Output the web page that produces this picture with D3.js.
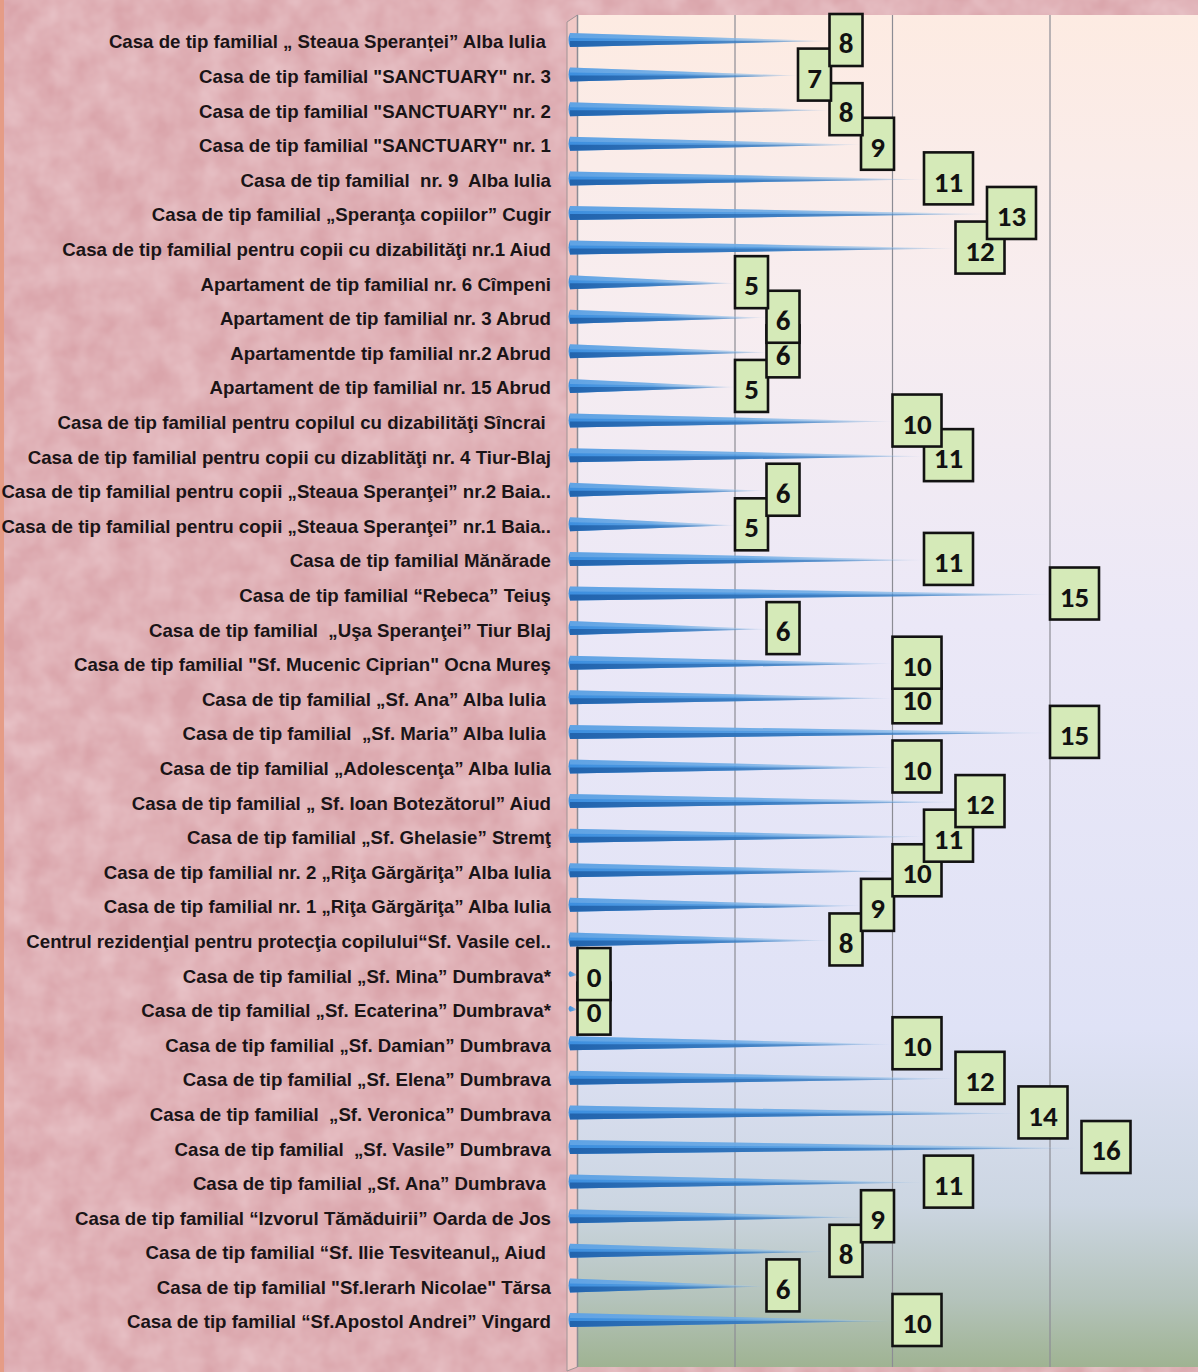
<!DOCTYPE html>
<html><head><meta charset="utf-8">
<script src="https://cdn.jsdelivr.net/npm/d3@7/dist/d3.min.js"></script>
<style>
html,body{margin:0;padding:0;background:#dba9ae;}
svg{display:block;}
.lbl{font-family:"Liberation Sans Narrow","Arial Narrow","Liberation Sans",sans-serif;font-weight:bold;font-size:18px;fill:#1a1416;white-space:pre;}
.val{font-family:Carlito,Lato,"Open Sans",sans-serif;font-weight:600;font-size:29px;fill:#111;}
</style></head>
<body>
<script>
const categories = [
 "Casa de tip familial „ Steaua Speranței” Alba Iulia ",
 "Casa de tip familial \"SANCTUARY\" nr. 3",
 "Casa de tip familial \"SANCTUARY\" nr. 2",
 "Casa de tip familial \"SANCTUARY\" nr. 1",
 "Casa de tip familial  nr. 9  Alba Iulia",
 "Casa de tip familial „Speranţa copiilor” Cugir",
 "Casa de tip familial pentru copii cu dizabilităţi nr.1 Aiud",
 "Apartament de tip familial nr. 6 Cîmpeni",
 "Apartament de tip familial nr. 3 Abrud",
 "Apartamentde tip familial nr.2 Abrud",
 "Apartament de tip familial nr. 15 Abrud",
 "Casa de tip familial pentru copilul cu dizabilităţi Sîncrai ",
 "Casa de tip familial pentru copii cu dizablităţi nr. 4 Tiur-Blaj",
 "Casa de tip familial pentru copii „Steaua Speranţei” nr.2 Baia..",
 "Casa de tip familial pentru copii „Steaua Speranţei” nr.1 Baia..",
 "Casa de tip familial Mănărade",
 "Casa de tip familial “Rebeca” Teiuş",
 "Casa de tip familial  „Uşa Speranţei” Tiur Blaj",
 "Casa de tip familial \"Sf. Mucenic Ciprian\" Ocna Mureş",
 "Casa de tip familial „Sf. Ana” Alba Iulia ",
 "Casa de tip familial  „Sf. Maria” Alba Iulia ",
 "Casa de tip familial „Adolescenţa” Alba Iulia",
 "Casa de tip familial „ Sf. Ioan Botezătorul” Aiud",
 "Casa de tip familial „Sf. Ghelasie” Stremţ",
 "Casa de tip familial nr. 2 „Riţa Gărgăriţa” Alba Iulia",
 "Casa de tip familial nr. 1 „Riţa Gărgăriţa” Alba Iulia",
 "Centrul rezidenţial pentru protecţia copilului“Sf. Vasile cel..",
 "Casa de tip familial „Sf. Mina” Dumbrava*",
 "Casa de tip familial „Sf. Ecaterina” Dumbrava*",
 "Casa de tip familial „Sf. Damian” Dumbrava",
 "Casa de tip familial „Sf. Elena” Dumbrava",
 "Casa de tip familial  „Sf. Veronica” Dumbrava",
 "Casa de tip familial  „Sf. Vasile” Dumbrava",
 "Casa de tip familial „Sf. Ana” Dumbrava ",
 "Casa de tip familial “Izvorul Tămăduirii” Oarda de Jos",
 "Casa de tip familial “Sf. Ilie Tesviteanul„ Aiud ",
 "Casa de tip familial \"Sf.Ierarh Nicolae\" Tărsa",
 "Casa de tip familial “Sf.Apostol Andrei” Vingard"
];
const values = [8,7,8,9,11,13,12,5,6,6,5,10,11,6,5,11,15,6,10,10,15,10,12,11,10,9,8,0,0,10,12,14,16,11,9,8,6,10];
const gridTicks = [5,10,15];

const W = 1198, H = 1372;
const plotTop = 15, plotBottom = 1367;
const svg = d3.select("body").append("svg").attr("width", W).attr("height", H);
const defs = svg.append("defs");

// textured pink background
const f = defs.append("filter").attr("id","tex").attr("x",0).attr("y",0).attr("width","100%").attr("height","100%");
f.append("feTurbulence").attr("type","fractalNoise").attr("baseFrequency","0.035").attr("numOctaves",3).attr("seed",4).attr("result","n");
f.append("feColorMatrix").attr("in","n").attr("type","matrix")
 .attr("values","0 0 0 0 0.96  0 0 0 0 0.82  0 0 0 0 0.84  0 0 0 0.6 -0.12");
svg.append("rect").attr("width",W).attr("height",H).attr("fill","#daa5ab");
svg.append("rect").attr("width",W).attr("height",H).attr("filter","url(#tex)");
svg.append("rect").attr("x",0).attr("y",0).attr("width",4).attr("height",H).attr("fill","#e59c86");

// scales
const x = d3.scaleLinear().domain([0,20]).range([577.5, 1207.5]);
const y = d3.scalePoint().domain(d3.range(categories.length)).range([42, 1322]);
const rows = values.map((v,i)=>({v, i, cat: categories[i]}));

// plot background
const bg = defs.append("linearGradient").attr("id","plotbg").attr("x1",0).attr("y1",0).attr("x2",0).attr("y2",1);
[[0,"#fdebe2"],[0.22,"#f7edf0"],[0.45,"#ebe8f7"],[0.75,"#dfe2f6"],[0.88,"#ccd6e2"],[0.95,"#b4c3bb"],[1,"#9fb392"]]
 .forEach(([o,c])=>bg.append("stop").attr("offset",o).attr("stop-color",c));
svg.append("rect").attr("x",x(0)).attr("y",plotTop).attr("width",W-x(0)).attr("height",plotBottom-plotTop).attr("fill","url(#plotbg)");

// side wall
svg.append("path").attr("d",`M567,22 L${x(0)},${plotTop} L${x(0)},${plotBottom} L567,${plotBottom+4} Z`)
 .attr("fill","#f1c9c6").attr("stroke","#a09496").attr("stroke-width",1);

// gridlines
svg.append("g").selectAll("line").data(gridTicks).join("line")
 .attr("x1",d=>x(d)).attr("x2",d=>x(d)).attr("y1",plotTop).attr("y2",plotBottom)
 .attr("stroke","#8c8c94").attr("stroke-width",1.2);
svg.append("line").attr("x1",x(0)).attr("x2",x(0)).attr("y1",plotTop).attr("y2",plotBottom).attr("stroke","#8c8c94").attr("stroke-width",1.5);

// spike gradients
const sg = defs.append("linearGradient").attr("id","spike").attr("x1",0).attr("y1",0).attr("x2",1).attr("y2",0);
[[0,"#3d8fdf",1],[0.5,"#4b98e0",0.9],[0.8,"#6aa8e0",0.55],[1,"#9cc2e8",0.1]]
 .forEach(([o,c,a])=>sg.append("stop").attr("offset",o).attr("stop-color",c).attr("stop-opacity",a));
const sd = defs.append("linearGradient").attr("id","spikeDark").attr("x1",0).attr("y1",0).attr("x2",1).attr("y2",0);
[[0,"#1f5fa8",0.9],[0.7,"#2e6fb5",0.55],[1,"#5a8fc8",0.05]]
 .forEach(([o,c,a])=>sd.append("stop").attr("offset",o).attr("stop-color",c).attr("stop-opacity",a));

const x0 = 570, hh = 7;
const spikes = svg.append("g").selectAll("g").data(rows).join("g");
spikes.append("path")
 .attr("d",r=>{const cy=y(r.i)-2, t=Math.max(x(r.v),x0+4); const h=r.v>0?hh:3; return `M${x0},${cy-h} L${t},${cy+1} L${x0},${cy+h} Q${x0-3},${cy} ${x0},${cy-h} Z`;})
 .attr("fill","url(#spike)");
spikes.filter(r=>r.v>0).append("path")
 .attr("d",r=>{const cy=y(r.i)-2, t=x(r.v); return `M${x0},${cy+1} L${t},${cy+1} L${x0},${cy+hh} Z`;})
 .attr("fill","url(#spikeDark)");
spikes.filter(r=>r.v>0).append("path")
 .attr("d",r=>{const cy=y(r.i)-2, t=x(r.v); return `M${x0},${cy-hh} L${t},${cy+1} L${x0},${cy-2} Z`;})
 .attr("fill","#ffffff").attr("opacity",0.18);

// category labels, stretched horizontally to the reference's text width
const labelRight = 551;
const lbls = svg.append("g").selectAll("text").data(rows).join("text")
 .attr("class","lbl").attr("x",0).attr("y",0).attr("dy","0.36em").attr("text-anchor","end")
 .text(r=>r.cat);
const refW = lbls.nodes()[6].getComputedTextLength();
const sx = 489 / refW;
lbls.attr("transform",r=>`translate(${labelRight},${y(r.i)}) scale(${sx},1)`);

// value labels (earlier rows on top)
const lab = svg.append("g").selectAll("g").data(rows.slice().reverse()).join("g")
 .attr("transform",r=>`translate(${x(r.v)},${y(r.i)})`);
lab.append("rect")
 .attr("x",0).attr("y",-28).attr("height",52)
 .attr("width",r=>String(r.v).length>1?49:33)
 .attr("fill","#d5eab8").attr("stroke","#121212").attr("stroke-width",2.6);
lab.append("text").attr("class","val")
 .attr("x",r=>String(r.v).length>1?24.5:16.5).attr("y",1).attr("dy","0.35em").attr("text-anchor","middle")
 .text(r=>r.v);
</script>
</body></html>
